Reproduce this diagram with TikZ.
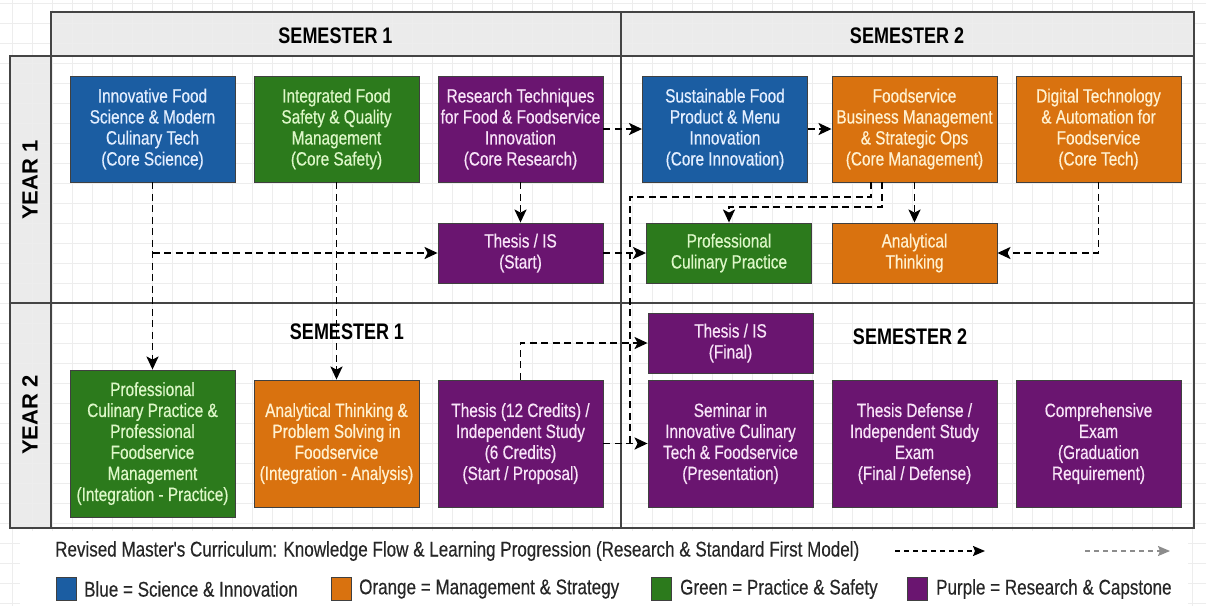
\documentclass[tikz,border=0pt]{standalone}
\usepackage{fontspec}
\setmainfont{Liberation Sans}
\newfontfamily\boxf{Liberation Sans}[FakeStretch=0.8,FakeBold=0.5]
\newfontfamily\legf{Liberation Sans}[FakeStretch=0.8,FakeBold=0.3]
\newfontfamily\hdrf{Liberation Sans}[FakeStretch=0.8]
\usetikzlibrary{arrows.meta}
\definecolor{cblue}{HTML}{1B5DA2}
\definecolor{corange}{HTML}{D9720F}
\definecolor{cgreen}{HTML}{2C7A1C}
\definecolor{cpurple}{HTML}{6A1570}
\definecolor{tblue}{HTML}{E3EEFF}
\definecolor{torange}{HTML}{FFF1D0}
\definecolor{tgreen}{HTML}{DDF7C8}
\definecolor{tpurple}{HTML}{F8E4F8}
\definecolor{gridc}{HTML}{EDEDED}
\definecolor{hdrfill}{HTML}{EBEBEB}
\definecolor{framec}{HTML}{444444}
\tikzset{
  box/.style={draw=black!75, line width=0.9pt, minimum width=165pt, inner sep=0pt, align=center, font={\boxf\fontsize{19.2}{21}\selectfont}},
  bbox/.style={box, fill=cblue, text=tblue},
  obox/.style={box, fill=corange, text=torange},
  gbox/.style={box, fill=cgreen, text=tgreen},
  pbox/.style={box, fill=cpurple, text=tpurple},
  flown/.style={draw=black, line width=1.9pt, dash pattern=on 7pt off 4.5pt},
  flow/.style={flown, -{Stealth[length=13pt,width=12pt,inset=3pt]}},
  semlabel/.style={font={\hdrf\bfseries\fontsize{22.5}{24}\selectfont}},
  yearlabel/.style={rotate=90, font={\bfseries\fontsize{22}{22}\selectfont}},
  legtext/.style={anchor=west, inner sep=0pt, font={\legf\fontsize{21.3}{22}\selectfont}, text=black!85},
  legsq/.style={draw=black!75, line width=0.9pt, minimum width=20pt, minimum height=23pt, inner sep=0pt},
  framel/.style={draw=framec, line width=1.4pt}
}
\begin{document}
\begin{tikzpicture}[x=1pt,y=-1pt]
\useasboundingbox (0,0) rectangle (1206,606);
\fill[white] (0,0) rectangle (1206,606);
% fills
\fill[hdrfill] (51,12) rectangle (1194,56);
\fill[hdrfill] (10,56) rectangle (51,528);
% grid
\foreach \x in {12,32,...,1200} \draw[gridc, line width=0.8pt] (\x,0) -- (\x,606);
\foreach \y in {3,23,...,606} \draw[gridc, line width=0.8pt] (0,\y) -- (1206,\y);
\fill[white] (20,531) rectangle (1188,606);
% frame
\draw[framel] (51,12) rectangle (1194,528);
\draw[framel] (10,56) rectangle (51,528);
\draw[framel] (51,56) -- (1194,56);
\draw[framel] (621,12) -- (621,528);
\draw[framel] (10,303) -- (1194,303);
% headers
\node[semlabel] (h1) at (335.5,36) {SEMESTER 1};
\node[semlabel] (h2) at (907,36) {SEMESTER 2};
\node[yearlabel] (y1) at (30,180) {YEAR 1};
\node[yearlabel] (y2) at (30,415) {YEAR 2};
\node[semlabel] (h3) at (347,332) {SEMESTER 1};
\node[semlabel] (h4) at (910,337) {SEMESTER 2};
% year 1 row 1
\node[bbox, minimum height=106pt] (sci) at (152.5,129) {Innovative Food\\Science \& Modern\\Culinary Tech\\(Core Science)};
\node[gbox, minimum height=106pt] (safe) at (336.5,129) {Integrated Food\\Safety \& Quality\\Management\\(Core Safety)};
\node[pbox, minimum height=106pt] (res) at (520.5,129) {Research Techniques\\for Food \& Foodservice\\Innovation\\(Core Research)};
\node[bbox, minimum height=106pt] (sus) at (725,129) {Sustainable Food\\Product \& Menu\\Innovation\\(Core Innovation)};
\node[obox, minimum height=106pt] (mgmt) at (914.5,129) {Foodservice\\Business Management\\\& Strategic Ops\\(Core Management)};
\node[obox, minimum height=106pt] (tech) at (1098.5,129) {Digital Technology\\\& Automation for\\Foodservice\\(Core Tech)};
% year 1 row 2
\node[pbox, minimum height=60pt] (thstart) at (520.5,253) {Thesis / IS\\(Start)};
\node[gbox, minimum height=60pt] (pcp) at (729,253) {Professional\\Culinary Practice};
\node[obox, minimum height=60pt] (anal) at (914.5,253) {Analytical\\Thinking};
% year 2
\node[gbox, minimum height=147pt] (pcpm) at (152.5,443.5) {Professional\\Culinary Practice \&\\Professional\\Foodservice\\Management\\(Integration - Practice)};
\node[obox, minimum height=127pt] (atps) at (336.5,443.5) {Analytical Thinking \&\\Problem Solving in\\Foodservice\\(Integration - Analysis)};
\node[pbox, minimum height=127pt] (th12) at (520.5,443.5) {Thesis (12 Credits) /\\Independent Study\\(6 Credits)\\(Start / Proposal)};
\node[pbox, minimum height=60pt] (thfinal) at (730.5,343) {Thesis / IS\\(Final)};
\node[pbox, minimum height=127pt] (sem) at (730.5,443.5) {Seminar in\\Innovative Culinary\\Tech \& Foodservice\\(Presentation)};
\node[pbox, minimum height=127pt] (def) at (914.5,443.5) {Thesis Defense /\\Independent Study\\Exam\\(Final / Defense)};
\node[pbox, minimum height=127pt] (comp) at (1098.5,443.5) {Comprehensive\\Exam\\(Graduation\\Requirement)};
% bends
\coordinate (j1) at (630,197);
\coordinate (j2) at (729,207);
% connectors
\draw[flow] (res.east) -- (sus.west);
\draw[flow] (sus.east) -- (mgmt.west);
\draw[flow] (res.south) -- (thstart.north);
\draw[flow] (sci.south) -- (pcpm.north);
\draw[flow] (sci.south |- thstart.west) -- (thstart.west);
\draw[flow] (safe.south) -- (atps.north);
\draw[flow] (thstart.east) -- (pcp.west);
\draw[flown] ([xshift=-43.5pt]mgmt.south) |- (j1) -- (j1 |- sem.west);
\draw[flow] ([xshift=-32.5pt]mgmt.south) |- (j2) -- (j2 |- pcp.north);
\draw[flow] (mgmt.south) -- (anal.north);
\draw[flow] (tech.south) |- (anal.east);
\draw[flow] (th12.north) |- (thfinal.west);
\draw[flow] (th12.east) -- (sem.west);
% legend
\node[legtext] (lt) at (55,551) {Revised Master's Curriculum: Knowledge Flow \& Learning Progression (Research \& Standard First Model)};
\coordinate (la1) at (895,551);
\coordinate (la2) at (985,551);
\coordinate (lb1) at (1085,551);
\coordinate (lb2) at (1170,551);
\draw[draw=black, line width=1.5pt, dash pattern=on 5pt off 4pt, -{Stealth[length=12pt,width=10pt,inset=2pt]}] (la1) -- (la2);
\draw[draw=black!45, line width=1.5pt, dash pattern=on 5pt off 4pt, -{Stealth[length=12pt,width=10pt,inset=2pt]}] (lb1) -- (lb2);
\node[legsq, fill=cblue] (sq1) at (66,589) {};
\node[legtext] (l1) at (84,589) {Blue = Science \& Innovation};
\node[legsq, fill=corange] (sq2) at (341,589) {};
\node[legtext] (l2) at (359,589) {Orange = Management \& Strategy};
\node[legsq, fill=cgreen] (sq3) at (661,589) {};
\node[legtext] (l3) at (680,589) {Green = Practice \& Safety};
\node[legsq, fill=cpurple] (sq4) at (917,589) {};
\node[legtext] (l4) at (936,589) {Purple = Research \& Capstone};
\end{tikzpicture}
\end{document}
